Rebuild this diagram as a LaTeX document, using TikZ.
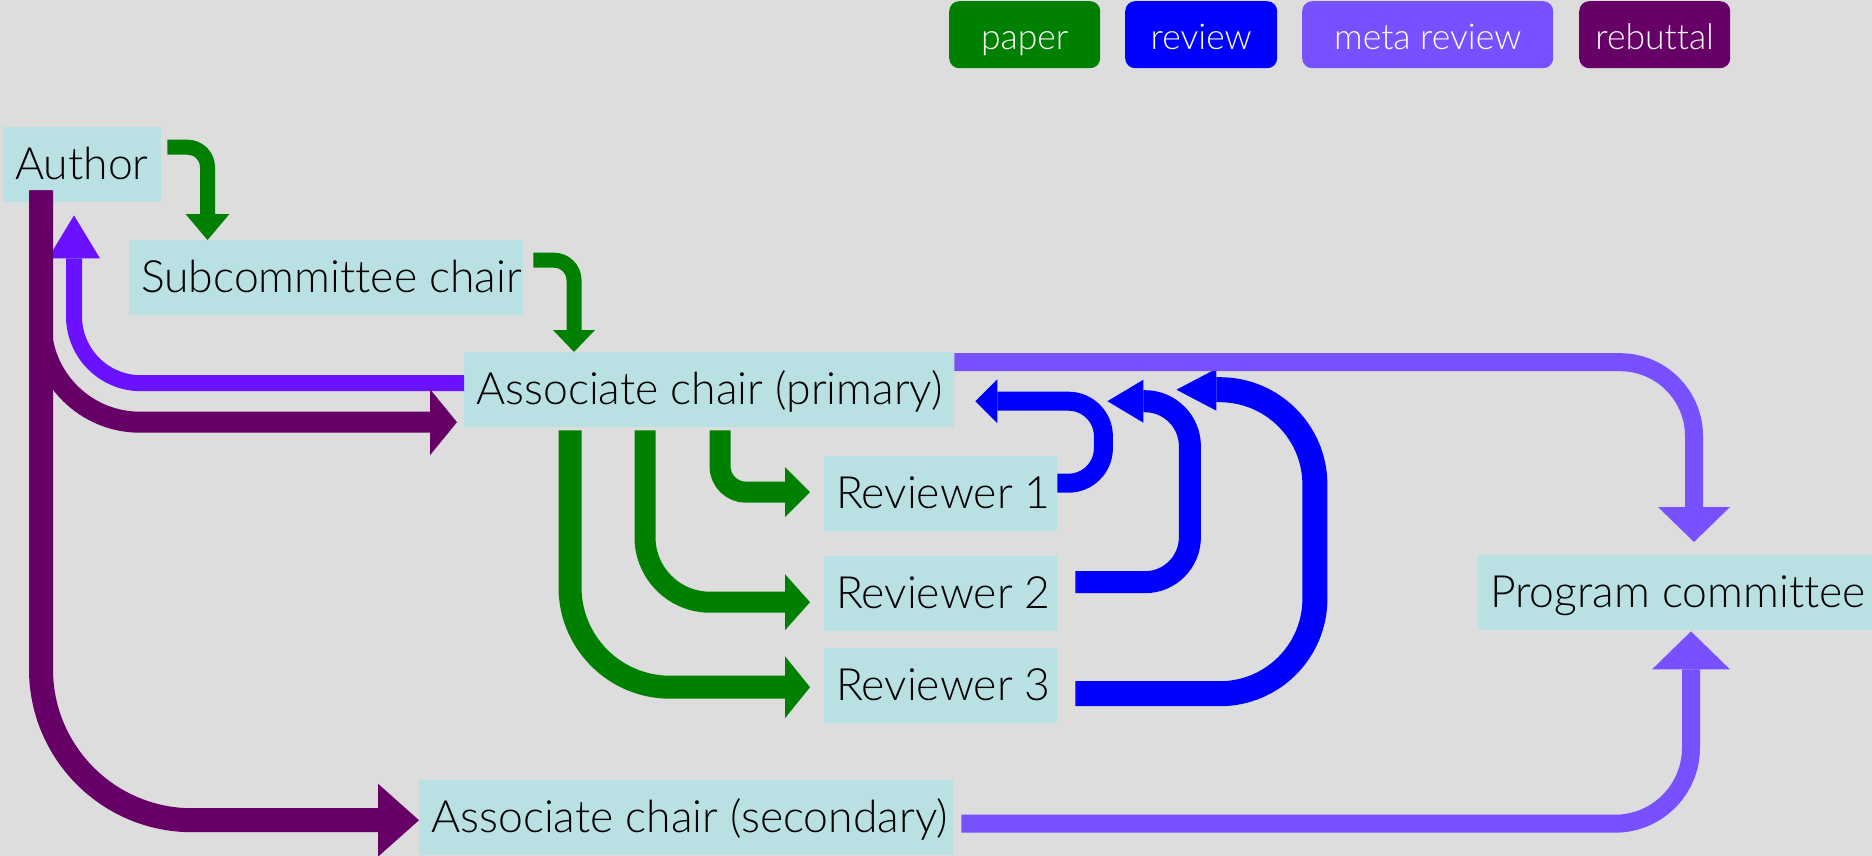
\documentclass[tikz,border=0pt]{standalone}
\usepackage{fontspec}
\newfontfamily\lightsans{Lato Light}[Ligatures=NoCommon]
\usetikzlibrary{arrows.meta,calc}
\definecolor{bgc}{HTML}{DDDDDD}
\definecolor{boxc}{HTML}{B9E0E3}
\definecolor{paperc}{HTML}{008000}
\definecolor{reviewc}{HTML}{0000FF}
\definecolor{metac}{HTML}{7850FF}
\definecolor{violetc}{HTML}{6A11FF}
\definecolor{rebutc}{HTML}{660066}
\begin{document}
\begin{tikzpicture}[x=1pt,y=-1pt,
  box/.style={fill=boxc, anchor=north west, inner xsep=12pt, inner ysep=0pt,
    text height=52pt, text depth=23pt, text=black,
    font=\lightsans\fontsize{44.5}{52}\selectfont},
  legend/.style={anchor=north west, rounded corners=10pt, inner sep=0pt,
    minimum height=67pt, text height=48pt, text depth=19pt, text=white,
    font=\lightsans\fontsize{35.5}{42}\selectfont},
  arr/.style n args={3}{line width=#1pt,
    -{Triangle[width=#2pt,length=#3pt,line width=0pt]}},
]
\useasboundingbox (0,0) rectangle (1872,856);
\fill[bgc] (0,0) rectangle (1872,856);

% legend
\node[legend, fill=paperc, minimum width=151pt] (Lp) at (949,1) {paper};
\node[legend, fill=reviewc, minimum width=152pt] (Lr) at (1125,1) {review};
\node[legend, fill=metac, minimum width=251pt] (Lm) at (1302,1) {meta review};
\node[legend, fill=rebutc, minimum width=151pt] (Lb) at (1579,1) {rebuttal};

% nodes
\node[box] (A)  at (3,127)    {\makebox[134pt][l]{Author}};
\node[box] (S)  at (129,240)  {\makebox[370pt][l]{Subcommittee chair}};
\node[box] (AP) at (464,352)  {\makebox[466pt][l]{Associate chair (primary)}};
\node[box] (R1) at (824,456)  {\makebox[209pt][l]{Reviewer 1}};
\node[box] (R2) at (824,556)  {\makebox[209pt][l]{Reviewer 2}};
\node[box] (R3) at (824,648)  {\makebox[209pt][l]{Reviewer 3}};
\node[box] (PC) at (1478,555) {\makebox[370pt][l]{Program committee}};
\node[box] (AS) at (419,780)  {\makebox[510pt][l]{Associate chair (secondary)}};

% paper
\draw[paperc, arr={15}{44}{26}, rounded corners=20pt]
  ($(A.east)+(6,-17.5)$) -| ($(S.north west)+(78.5,0)$);
\draw[paperc, arr={15}{42}{22}, rounded corners=20pt]
  ($(S.east)+(10,-17.5)$) -| ($(AP.north west)+(110,0)$);
\draw[paperc, arr={21}{50}{25}, rounded corners=26pt]
  ($(AP.south west)+(256,3)$) |- ($(R1.west)+(-14,-1.5)$);
\draw[paperc, arr={21}{56}{25}, rounded corners=65pt]
  ($(AP.south west)+(181,3)$) |- ($(R2.west)+(-14,8.5)$);
\draw[paperc, arr={23}{62}{25}, rounded corners=100pt]
  ($(AP.south west)+(106,3)$) |- ($(R3.west)+(-14,1.5)$);

% meta review back to author
\draw[violetc, arr={16}{52}{43}, rounded corners=67pt]
  ($(AP.west)+(0,-6.5)$) -| ($(A.south west)+(71,13)$);

% rebuttal
\draw[rebutc, arr={24}{73}{41}, rounded corners=151pt]
  ($(A.south west)+(38,-12)$) |- ($(AS.west)+(0,2.5)$);
\draw[rebutc, arr={21}{66}{27}, rounded corners=99pt]
  ($(A.south west)+(38,-12)$) |- ($(AP.west)+(-7,32.5)$);

% review
\draw[reviewc, arr={19}{44}{22}, rounded corners=35pt]
  ($(R1.east)+(0,-10.5)$) -| ($(AP.east)+(149,11.5)$) -- ($(AP.east)+(21,11.5)$);
\draw[reviewc, arr={22}{43}{36}, rounded corners=45pt]
  ($(R2.east)+(18,-11.5)$) -| ($(AP.east)+(235.5,11.5)$) -- ($(AP.east)+(153,11.5)$);
\draw[reviewc, arr={25}{42}{40}, rounded corners=95pt]
  ($(R3.east)+(18,8)$) -| ($(AP.east)+(360.5,0)$) -- ($(AP.east)+(222,0)$);

% meta review to program committee
\draw[metac, arr={18}{72}{35}, rounded corners=74pt]
  ($(AP.east)+(0,-27.5)$) -| ($(PC.north west)+(216,-13)$);
\draw[metac, arr={18}{78}{38}, rounded corners=76pt]
  ($(AS.east)+(8,6)$) -| ($(PC.south west)+(213,1)$);
\end{tikzpicture}
\end{document}
